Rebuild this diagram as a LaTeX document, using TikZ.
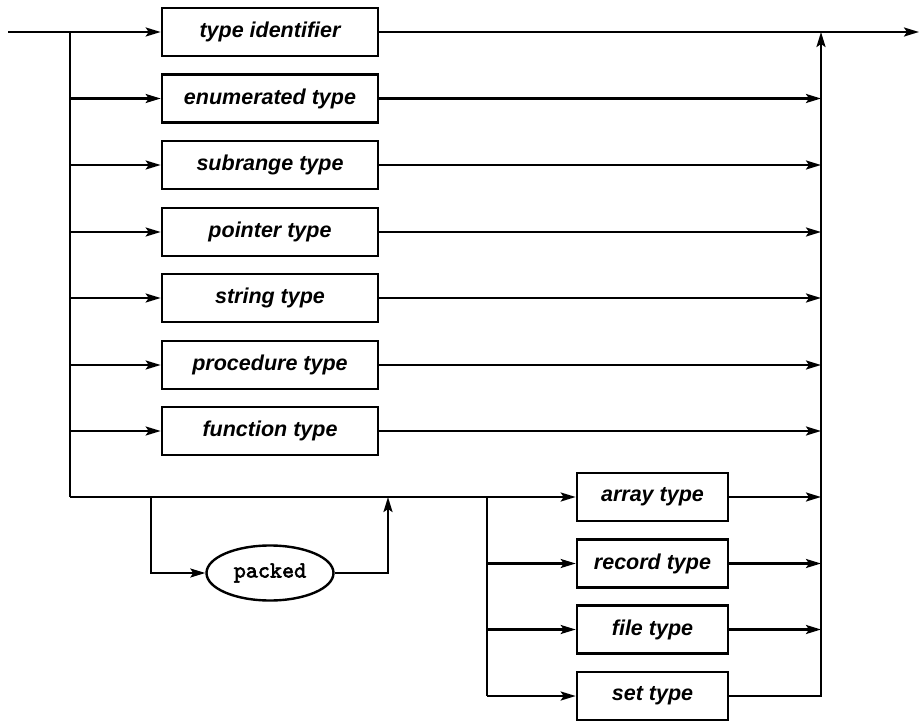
\documentclass[tikz,border=0pt]{standalone}
\usepackage{fontspec}
\setmainfont{Liberation Sans}
\newfontfamily\packfont[Extension=.otf,FakeBold=2.5]{lmmono10-regular}
\usetikzlibrary{arrows.meta,shapes.geometric}
\begin{document}
\begin{tikzpicture}[x=1pt,y=-1pt,
  tbox/.style={draw,line width=2.6pt,minimum width=216pt,minimum height=48pt,inner sep=0pt,
    font=\fontsize{21.5}{25}\selectfont\bfseries\itshape},
  sbox/.style={tbox,minimum width=151pt},
  pbox/.style={draw,ellipse,line width=2.4pt,minimum width=127pt,minimum height=55pt,inner sep=0pt,
    font=\packfont\fontsize{23}{27}\selectfont},
  conn/.style={line width=2.2pt},
  arr/.style={conn,-{Stealth[length=15pt,width=9pt,inset=3pt]}},
]
\useasboundingbox (0,0) rectangle (919,722);
% main boxes
\node[tbox] (ti) at (270,32) {type identifier};
\node[tbox] (et) at (270,98.5) {enumerated type};
\node[tbox] (sr) at (270,165) {subrange type};
\node[tbox] (pt) at (270,232) {pointer type};
\node[tbox] (stt) at (270,298) {string type};
\node[tbox] (prt) at (270,365) {procedure type};
\node[tbox] (ft) at (270,431) {function type};
% structured
\node[sbox] (ar) at (652.5,497) {array type};
\node[sbox] (rt) at (652.5,563.5) {record type};
\node[sbox] (fit) at (652.5,629.5) {file type};
\node[sbox] (set) at (652.5,696) {set type};
\node[pbox] (pk) at (270,573) {packed};
% coordinates
\coordinate (start) at (8,32);
\coordinate (end) at (919,32);
\coordinate (lv) at (70,32);
\coordinate (lb) at (70,497);
\coordinate (pk1) at (151,497);
\coordinate (pk4) at (388,497);
\coordinate (sv1) at (487,497);
\coordinate (sv2) at (487,696);
\coordinate (rtop) at (821,32);
\coordinate (rbot) at (821,696);
% main line
\draw[arr] (start) -- (ti);
\draw[arr] (ti) -- (end);
\draw[conn] (lv) -- (lb);
\foreach \b in {et,sr,pt,stt,prt,ft}{
  \draw[arr] (lv |- \b) -- (\b.west);
  \draw[arr] (\b.east) -- (rtop |- \b);
}
% bottom
\draw[arr] (lb) -- (ar.west);
\draw[arr] (pk1) -- (pk1 |- pk) -- (pk.west);
\draw[arr] (pk.east) -- (pk4 |- pk) -- (pk4);
\draw[conn] (sv1) -- (sv2);
\foreach \b in {rt,fit,set}{
  \draw[arr] (sv1 |- \b) -- (\b.west);
}
\foreach \b in {ar,rt,fit}{
  \draw[arr] (\b.east) -- (rtop |- \b);
}
\draw[arr] (set.east) -- (rbot) -- (rtop);
\end{tikzpicture}
\end{document}
